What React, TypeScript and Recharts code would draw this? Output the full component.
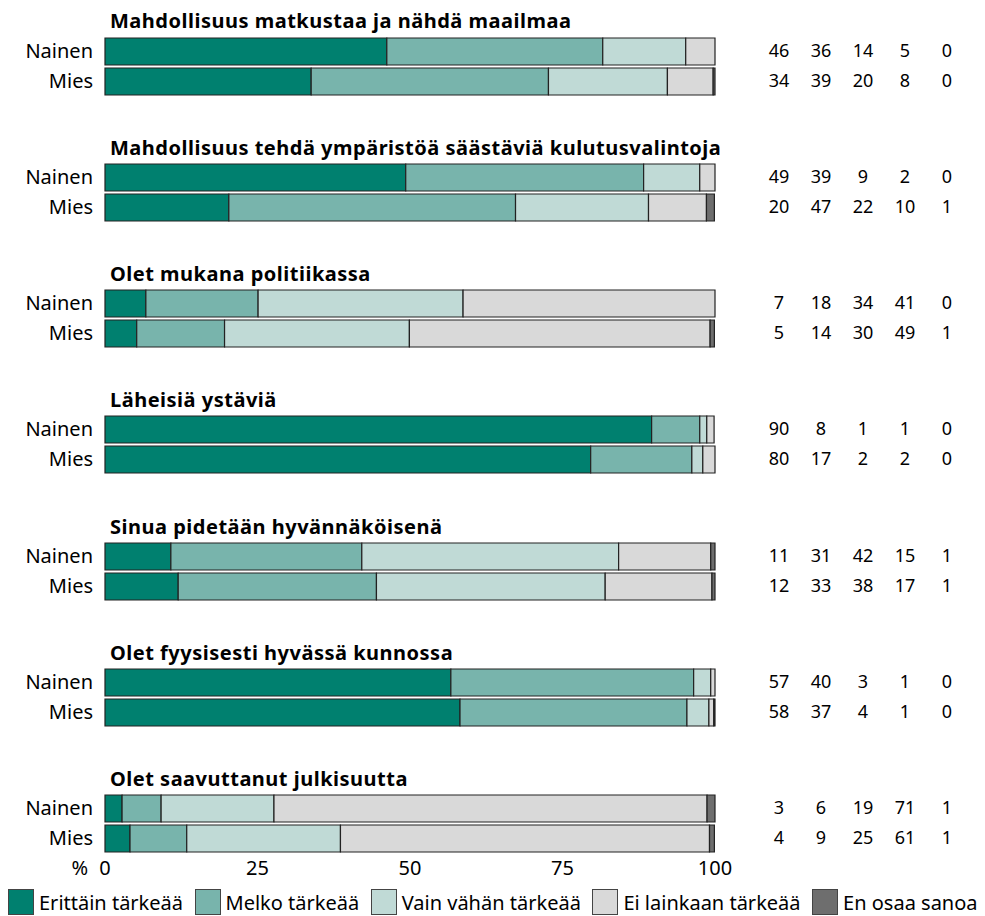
import { Bar, BarChart, Label, XAxis, YAxis } from "recharts";

const categories = [
  "Erittäin tärkeää",
  "Melko tärkeää",
  "Vain vähän tärkeää",
  "Ei lainkaan tärkeää",
  "En osaa sanoa",
];
const colors = ["#00806f", "#78b4ac", "#c0dad6", "#d9d9d9", "#6e6e6e"];

const questions = [
  "Mahdollisuus matkustaa ja nähdä maailmaa",
  "Mahdollisuus tehdä ympäristöä säästäviä kulutusvalintoja",
  "Olet mukana politiikassa",
  "Läheisiä ystäviä",
  "Sinua pidetään hyvännäköisenä",
  "Olet fyysisesti hyvässä kunnossa",
  "Olet saavuttanut julkisuutta",
];
const genders = ["Nainen", "Mies"];

// bar lengths in %
const nainenShares = [
  [46.2, 35.4, 13.6, 4.8, 0],
  [49.3, 39.0, 9.2, 2.5, 0],
  [6.7, 18.4, 33.6, 41.3, 0],
  [89.7, 7.9, 1.15, 1.2, 0],
  [10.8, 31.3, 42.1, 15.1, 0.7],
  [56.7, 39.8, 2.8, 0.7, 0],
  [2.8, 6.4, 18.5, 71.0, 1.3],
];
const miesShares = [
  [33.8, 38.9, 19.5, 7.5, 0.3],
  [20.3, 47.0, 21.8, 9.5, 1.3],
  [5.2, 14.4, 30.3, 49.3, 0.7],
  [79.7, 16.6, 1.8, 2.0, 0],
  [12.0, 32.5, 37.5, 17.5, 0.5],
  [58.2, 37.2, 3.6, 0.8, 0.2],
  [4.1, 9.3, 25.2, 60.5, 0.8],
];

// rounded figures printed on the right
const nainenLabels = [
  [46, 36, 14, 5, 0],
  [49, 39, 9, 2, 0],
  [7, 18, 34, 41, 0],
  [90, 8, 1, 1, 0],
  [11, 31, 42, 15, 1],
  [57, 40, 3, 1, 0],
  [3, 6, 19, 71, 1],
];
const miesLabels = [
  [34, 39, 20, 8, 0],
  [20, 47, 22, 10, 1],
  [5, 14, 30, 49, 1],
  [80, 17, 2, 2, 0],
  [12, 33, 38, 17, 1],
  [58, 37, 4, 1, 0],
  [4, 9, 25, 61, 1],
];

const xTicks = [0, 25, 50, 75, 100];

const FONT = "'Noto Sans', sans-serif";
const W = 985;
const PLOT_LEFT = 105;
const PLOT_RIGHT = 715;
const NUM_X = [779, 821, 863, 905, 947];
const GROUP_TOP = 35.5;
const GROUP_STEP = 126.33;
const ROWS_H = 60;
const AXIS_H = 30;

function buildRows(q: number) {
  const shares = [nainenShares[q], miesShares[q]];
  const labels = [nainenLabels[q], miesLabels[q]];
  return genders.map((g, gi) => {
    const row: Record<string, any> = { name: g, labels: labels[gi] };
    categories.forEach((_, ci) => {
      row["k" + ci] = shares[gi][ci];
    });
    return row;
  });
}

function RowTick(props: any) {
  const { x, y, payload, index, rows } = props;
  const row = rows[index];
  return (
    <g>
      <text x={x} y={y} dy="0.355em" textAnchor="end" fontSize={20} fill="#000" fontFamily={FONT}>
        {payload.value}
      </text>
      {row.labels.map((v: number, i: number) => (
        <text
          key={i}
          x={NUM_X[i]}
          y={y}
          dy="0.355em"
          textAnchor="middle"
          fontSize={18}
          fill="#000"
          fontFamily={FONT}
        >
          {v}
        </text>
      ))}
    </g>
  );
}

function GroupChart({ q }: { q: number }) {
  const rows = buildRows(q);
  const last = q === questions.length - 1;
  const top = GROUP_TOP + GROUP_STEP * q;
  return (
    <div style={{ position: "absolute", left: 0, top }}>
      <div
        style={{
          position: "absolute",
          left: 110,
          top: -24.3,
          fontFamily: FONT,
          fontWeight: 700,
          fontSize: 20,
          lineHeight: "20px",
          whiteSpace: "nowrap",
          color: "#000",
          letterSpacing: 0.5,
        }}
      >
        {questions[q]}
      </div>
      <BarChart
        width={W}
        height={ROWS_H + (last ? AXIS_H : 0)}
        data={rows}
        layout="vertical"
        barSize={27}
        margin={{ top: 0, right: W - PLOT_RIGHT, bottom: 0, left: 0 }}
      >
        <XAxis
          type="number"
          domain={[0, 100]}
          ticks={xTicks}
          hide={!last}
          height={AXIS_H}
          axisLine={false}
          tickLine={false}
          tick={{ fontSize: 20, fill: "#000", fontFamily: FONT }}
        >
          <Label value="%" position="left" offset={17} fontSize={20} fill="#000" fontFamily={FONT} />
        </XAxis>
        <YAxis
          type="category"
          dataKey="name"
          width={PLOT_LEFT}
          axisLine={false}
          tickLine={false}
          tickMargin={6}
          tick={<RowTick rows={rows} />}
        />
        {categories.map((c, ci) => (
          <Bar
            key={c}
            dataKey={"k" + ci}
            name={c}
            stackId="a"
            fill={colors[ci]}
            stroke="#222"
            strokeWidth={1.2}
            isAnimationActive={false}
          />
        ))}
      </BarChart>
    </div>
  );
}

function LegendRow() {
  return (
    <div
      style={{
        position: "absolute",
        left: 8,
        top: 889,
        display: "flex",
        gap: 11.5,
        fontFamily: FONT,
        fontSize: 20,
        lineHeight: "25px",
        color: "#000",
        whiteSpace: "nowrap",
      }}
    >
      {categories.map((c, ci) => (
        <div key={c} style={{ display: "flex", alignItems: "center", gap: 5 }}>
          <span
            style={{
              display: "inline-block",
              width: 24,
              height: 24,
              background: colors[ci],
              border: "1px solid #444",
            }}
          />
          <span>{c}</span>
        </div>
      ))}
    </div>
  );
}

export default function App() {
  return (
    <div style={{ position: "absolute", left: 0, top: 0, width: W, height: 916, background: "#fff" }}>
      {questions.map((_, q) => (
        <GroupChart key={q} q={q} />
      ))}
      <LegendRow />
    </div>
  );
}
